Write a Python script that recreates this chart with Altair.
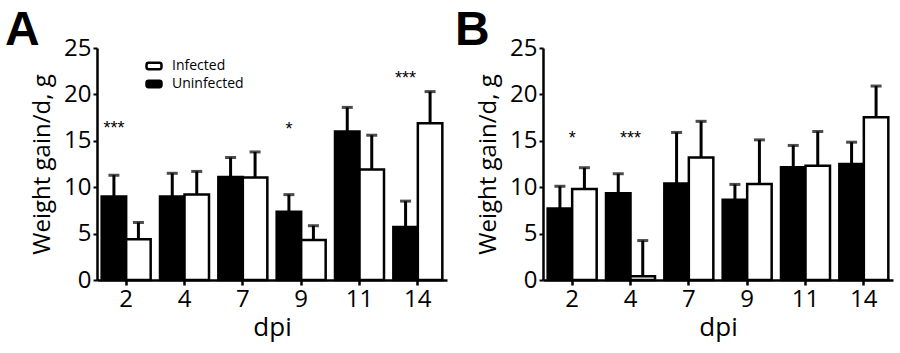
import altair as alt
import pandas as pd

# ---------------- data ----------------
dpi = ["2", "4", "7", "9", "11", "14"]
groups = ["Uninfected", "Infected"]

a_uninf = [9.0, 9.0, 11.1, 7.35, 16.0, 5.7]
a_uninf_err = [2.3, 2.5, 2.1, 1.85, 2.6, 2.8]
a_inf = [4.4, 9.2, 11.05, 4.3, 11.9, 16.9]
a_inf_err = [1.8, 2.5, 2.75, 1.55, 3.7, 3.4]

b_uninf = [7.7, 9.35, 10.4, 8.65, 12.15, 12.5]
b_uninf_err = [2.4, 2.1, 5.5, 1.65, 2.35, 2.35]
b_inf = [9.8, 0.4, 13.2, 10.35, 12.3, 17.55]
b_inf_err = [2.3, 3.85, 3.9, 4.75, 3.7, 3.35]

a_sig_dpi = ["2", "9", "14"]
a_sig_y = [16.7, 16.6, 22.1]
a_sig_label = ["***", "*", "***"]

b_sig_dpi = ["2", "4"]
b_sig_y = [15.6, 15.6]
b_sig_label = ["*", "***"]

y_ticks = [0, 5, 10, 15, 20, 25]

FONT = "Open Sans"
W, H = 350, 232


def frame(unin, unin_err, inf, inf_err):
    rows = []
    for d, v, e in zip(dpi, unin, unin_err):
        rows.append({"dpi": d, "group": "Uninfected", "value": v, "upper": v + e})
    for d, v, e in zip(dpi, inf, inf_err):
        rows.append({"dpi": d, "group": "Infected", "value": v, "upper": v + e})
    return pd.DataFrame(rows)


ROUNDED = ("M-0.72,-0.42 L0.72,-0.42 Q1,-0.42 1,-0.14 L1,0.14 Q1,0.42 0.72,0.42 "
           "L-0.72,0.42 Q-1,0.42 -1,0.14 L-1,-0.14 Q-1,-0.42 -0.72,-0.42 Z")


def panel(df, sig_dpi, sig_y, sig_label, letter, letter_x, show_legend, sig_on_uninf):
    xenc = alt.X("dpi:N", sort=dpi, title="dpi",
                 scale=alt.Scale(paddingInner=0.16, paddingOuter=0.08),
                 axis=alt.Axis(labelAngle=0, labelFontSize=24, labelFont=FONT,
                               labelColor="black", labelPadding=2,
                               tickSize=5, tickWidth=2.5, tickColor="black",
                               domainWidth=2.5, domainColor="black",
                               titleFontSize=26, titleFont=FONT, titleFontWeight="normal",
                               titleColor="black", titlePadding=3))
    yscale = alt.Scale(domain=[0, 25], nice=False)
    yenc = alt.Y("value:Q", scale=yscale, title="Weight gain/d, g",
                 axis=alt.Axis(values=y_ticks, grid=False, labelFontSize=24,
                               labelFont=FONT, labelColor="black", labelPadding=2,
                               tickSize=4, tickWidth=2, tickColor="black",
                               domainWidth=2.5, domainColor="black",
                               titleFontSize=24, titleFont=FONT,
                               titleFontWeight="normal", titleColor="black",
                               titlePadding=9, minExtent=34, maxExtent=34))
    xoff = alt.XOffset("group:N", sort=groups,
                       scale=alt.Scale(domain=groups, paddingInner=0, paddingOuter=0))

    if show_legend:
        legend = alt.Legend(title=None, orient="none", legendX=48, legendY=9,
                            symbolType=ROUNDED, symbolSize=225,
                            symbolStrokeWidth=2.5, symbolStrokeColor="black",
                            labelFont=FONT, labelFontSize=14, labelColor="black",
                            labelOffset=9, rowPadding=0)
    else:
        legend = None

    fill = alt.Fill("group:N",
                    scale=alt.Scale(domain=["Infected", "Uninfected"],
                                    range=["white", "black"]),
                    legend=legend)

    base = alt.Chart(df)
    rules = base.mark_rule(color="black", strokeWidth=3).encode(
        x=xenc, xOffset=xoff, y=yenc, y2="upper:Q")
    caps = base.mark_tick(color="black", thickness=3, size=11).encode(
        x=xenc, xOffset=xoff, y=alt.Y("upper:Q", scale=yscale))
    bars = base.mark_bar(stroke="black", strokeWidth=2.5).encode(
        x=xenc, xOffset=xoff, y=yenc, fill=fill)

    sig_df = pd.DataFrame({"dpi": sig_dpi, "y": sig_y, "label": sig_label,
                           "group": ["Uninfected"] * len(sig_dpi)})
    sig = alt.Chart(sig_df).mark_text(font="Liberation Sans", fontSize=18,
                                      color="black", baseline="middle", dy=4)
    if sig_on_uninf:
        sig = sig.encode(x=alt.X("dpi:N", sort=dpi), xOffset=xoff,
                         y=alt.Y("y:Q", scale=yscale), text="label:N")
    else:
        sig = sig.encode(x=alt.X("dpi:N", sort=dpi),
                         y=alt.Y("y:Q", scale=yscale), text="label:N")

    let_df = pd.DataFrame({"letter": [letter]})
    let = alt.Chart(let_df).mark_text(font="Liberation Sans", fontSize=48,
                                      fontWeight="bold", color="black",
                                      align="left", baseline="alphabetic").encode(
        x=alt.value(letter_x), y=alt.value(-3), text="letter:N")

    return alt.layer(rules, caps, bars, sig, let).properties(width=W, height=H)


pa = panel(frame(a_uninf, a_uninf_err, a_inf, a_inf_err),
           a_sig_dpi, a_sig_y, a_sig_label, "A", -92, True, True)
pb = panel(frame(b_uninf, b_uninf_err, b_inf, b_inf_err),
           b_sig_dpi, b_sig_y, b_sig_label, "B", -88, False, False)

chart = alt.hconcat(pa, pb, spacing=8).resolve_scale(fill="independent").properties(
    padding={"left": 5, "top": 7, "right": 5, "bottom": 4},
    background="white",
).configure_view(stroke=None)

chart.save("out.html", embed_options={"renderer": "svg", "actions": False})
